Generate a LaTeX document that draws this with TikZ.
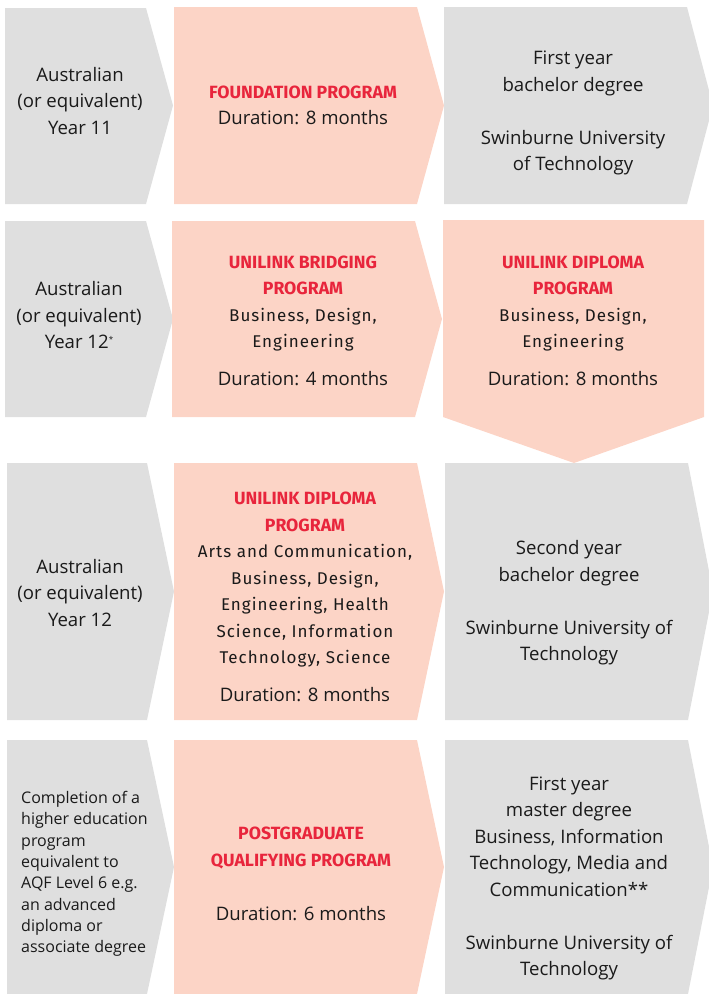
\documentclass[tikz,border=0pt]{standalone}
\usepackage{fontspec}
\setmainfont{Open Sans}
\newfontfamily\dinfont{Fira Sans}[LetterSpace=6]
\newfontfamily\dintitlefont{Fira Sans}
\definecolor{chgray}{HTML}{DFDFDF}
\definecolor{chpink}{HTML}{FCD4C6}
\definecolor{chred}{HTML}{E8253C}
\definecolor{chtext}{HTML}{1A1A1A}
\newcommand\redtitle{\dintitlefont\bfseries\fontsize{17.7}{26.5}\selectfont\color{chred}}
\newcommand\dinbody{\dinfont\fontsize{17}{26.5}\selectfont}
\begin{document}
\begin{tikzpicture}[x=1pt,y=-1pt,
  graybox/.style={fill=chgray},
  pinkbox/.style={fill=chpink},
  txt/.style={align=center, inner sep=0pt, text=chtext, font=\fontsize{18.6}{26.5}\selectfont},
  smalltxt/.style={align=left, inner sep=0pt, text=chtext, anchor=west, font=\fontsize{16}{21.3}\selectfont}]
\useasboundingbox (0,0) rectangle (709,994);
\begin{scope}
\clip (0,0) rectangle (709,994);
% Row 1
\fill[graybox] (5,8) -- (146,8) -- (173,105.5) -- (146,204) -- (5,204) -- cycle;
\fill[pinkbox] (174,7) -- (417,7) -- (444,105.5) -- (417,204) -- (174,204) -- cycle;
\fill[graybox] (444,7) -- (687,7) -- (713,105.5) -- (687,204) -- (444,204) -- cycle;
% Row 2
\fill[graybox] (5,221) -- (146,221) -- (173,319) -- (146,417) -- (5,417) -- cycle;
\fill[pinkbox] (172,221) -- (415,221) -- (442,319) -- (415,417) -- (172,417) -- cycle;
\fill[pinkbox] (443,220) -- (704,220) -- (704,417) -- (574,463) -- (443,417) -- cycle;
% Row 3
\fill[graybox] (7,463) -- (147,463) -- (174,591.5) -- (147,720) -- (7,720) -- cycle;
\fill[pinkbox] (174,463) -- (417,463) -- (444,591.5) -- (417,720) -- (174,720) -- cycle;
\fill[graybox] (445,463) -- (688,463) -- (713,591.5) -- (688,720) -- (445,720) -- cycle;
% Row 4
\fill[graybox] (7,740) -- (147,740) -- (174,867) -- (147,994) -- (7,994) -- cycle;
\fill[pinkbox] (174,740) -- (417,740) -- (444,867) -- (417,994) -- (174,994) -- cycle;
\fill[graybox] (445,740) -- (688,740) -- (713,867) -- (688,994) -- (445,994) -- cycle;
\end{scope}
% Texts row 1
\node[txt] (a1) at (80,101) {Australian\\(or equivalent)\\Year 11};
\node[txt] (b1) at (303,105.5) {{\redtitle FOUNDATION PROGRAM}\\Duration: 8 months};
\node[txt] (c1) at (573,113) {First year\\bachelor degree\\[26.5pt]Swinburne University\\of Technology};
% Row 2
\node[txt] (a2) at (79,315.5) {Australian\\(or equivalent)\\Year 12\raisebox{6pt}{\fontsize{8}{8}\selectfont *}};
\node[txt] (b2) at (303,321) {{\redtitle UNILINK BRIDGING}\\{\redtitle PROGRAM}\\{\dinbody Business, Design,}\\{\dinbody Engineering}\\[11.5pt]Duration: 4 months};
\node[txt] (c2) at (573,321) {{\redtitle UNILINK DIPLOMA}\\{\redtitle PROGRAM}\\{\dinbody Business, Design,}\\{\dinbody Engineering}\\[11.5pt]Duration: 8 months};
% Row 3
\node[txt] (a3) at (80,593) {Australian\\(or equivalent)\\Year 12};
\node[txt] (b3) at (305,597) {{\redtitle UNILINK DIPLOMA}\\{\redtitle PROGRAM}\\{\dinbody Arts and Communication,}\\{\dinbody Business, Design,}\\{\dinbody Engineering, Health}\\{\dinbody Science, Information}\\{\dinbody Technology, Science}\\[11.5pt]Duration: 8 months};
\node[txt] (c3) at (569,603) {Second year\\bachelor degree\\[26.5pt]Swinburne University of\\Technology};
% Row 4
\node[smalltxt] (a4) at (21,874) {Completion of a\\higher education\\program\\equivalent to\\AQF Level 6 e.g.\\an advanced\\diploma or\\associate degree};
\node[txt] (b4) at (301,874) {{\redtitle POSTGRADUATE}\\{\redtitle QUALIFYING PROGRAM}\\[27.5pt]Duration: 6 months};
\node[txt] (c4) at (569,878.5) {First year\\master degree\\Business, Information\\Technology, Media and\\Communication**\\[26.5pt]Swinburne University of\\Technology};
\end{tikzpicture}
\end{document}
